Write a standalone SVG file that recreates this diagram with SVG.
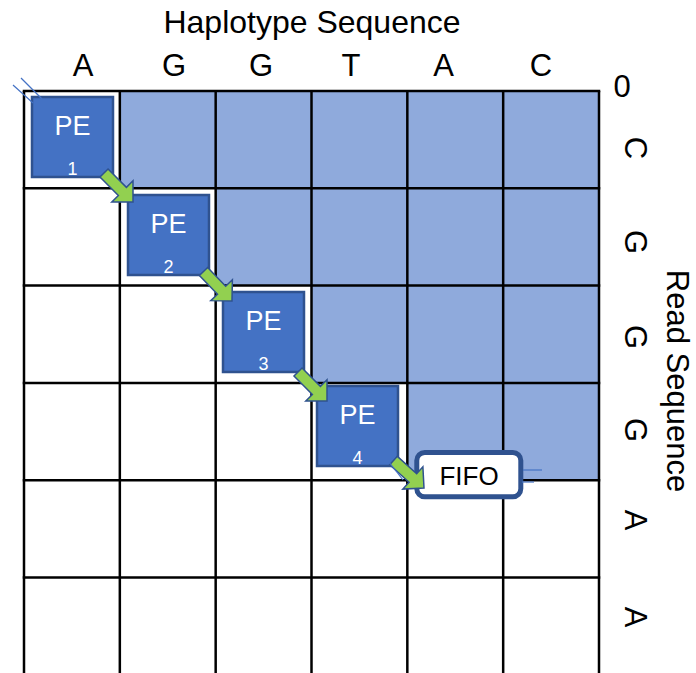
<svg xmlns="http://www.w3.org/2000/svg" width="696" height="673" viewBox="0 0 696 673">
  <defs>
    <style>
      .lbl { font-family: "Liberation Sans", Arial, sans-serif; fill: #000; }
      .big { font-size: 31px; }
      .grid line { stroke: #000; stroke-width: 2.5; }
      .pe rect { fill: #4472c4; stroke: #2f528f; stroke-width: 2.5; }
      .pe text { font-family: "Liberation Sans", Arial, sans-serif; fill: #fff; text-anchor: middle; }
      .pe .name { font-size: 27px; }
      .pe .num { font-size: 18px; }
      .arrow { fill: #92d050; stroke: #2f528f; stroke-width: 1.5; stroke-linejoin: miter; }
      .stub { stroke: #4472c4; stroke-width: 1.2; fill: none; }
    </style>
    <!-- right-pointing block arrow, tip at the origin -->
    <polygon id="blockArrow" points="-41,-5.7 -15,-5.7 -15,-15 0,0 -15,15 -15,5.7 -41,5.7"/>
  </defs>

  <rect width="696" height="673" fill="#fff"/>

  <!-- shaded upper triangle of the matrix -->
  <path d="M119.83,91 H599 V480.2 H407.33 V382.9 H311.5 V285.6 H215.67 V188.3 H119.83 Z" fill="#8faadc"/>

  <!-- matrix grid -->
  <g class="grid">
    <line x1="24" y1="91" x2="24" y2="673"/>
    <line x1="119.83" y1="91" x2="119.83" y2="673"/>
    <line x1="215.67" y1="91" x2="215.67" y2="673"/>
    <line x1="311.5" y1="91" x2="311.5" y2="673"/>
    <line x1="407.33" y1="91" x2="407.33" y2="673"/>
    <line x1="503.17" y1="91" x2="503.17" y2="673"/>
    <line x1="599" y1="91" x2="599" y2="673"/>
    <line x1="22.75" y1="91" x2="600.25" y2="91"/>
    <line x1="22.75" y1="188.3" x2="600.25" y2="188.3"/>
    <line x1="22.75" y1="285.6" x2="600.25" y2="285.6"/>
    <line x1="22.75" y1="382.9" x2="600.25" y2="382.9"/>
    <line x1="22.75" y1="480.2" x2="600.25" y2="480.2"/>
    <line x1="22.75" y1="577.5" x2="600.25" y2="577.5"/>
  </g>

  <!-- axis titles and sequence letters -->
  <text class="lbl" x="312" y="33" font-size="32" text-anchor="middle">Haplotype Sequence</text>
  <g class="lbl big" text-anchor="middle">
    <text x="83" y="76">A</text>
    <text x="174" y="76">G</text>
    <text x="261" y="76">G</text>
    <text x="351" y="76">T</text>
    <text x="443.5" y="76">A</text>
    <text x="541" y="76">C</text>
    <text x="622" y="97">0</text>
  </g>
  <g class="lbl big" text-anchor="middle">
    <text transform="translate(636,148) rotate(90)" y="11">C</text>
    <text transform="translate(636,242) rotate(90)" y="11">G</text>
    <text transform="translate(636,337) rotate(90)" y="11">G</text>
    <text transform="translate(636,430) rotate(90)" y="11">G</text>
    <text transform="translate(636,520) rotate(90)" y="11">A</text>
    <text transform="translate(636,617) rotate(90)" y="11">A</text>
    <text transform="translate(678,381) rotate(90)" y="11">Read Sequence</text>
  </g>

  <!-- processing elements -->
  <g id="pe1" class="pe">
    <rect x="32" y="97" width="81" height="80"/>
    <text class="name" x="72.5" y="135">PE</text>
    <text class="num" x="72.5" y="175">1</text>
  </g>
  <g id="pe2" class="pe">
    <rect x="128" y="195" width="81" height="80"/>
    <text class="name" x="168.5" y="233">PE</text>
    <text class="num" x="168.5" y="273">2</text>
  </g>
  <g id="pe3" class="pe">
    <rect x="223" y="292" width="81" height="80"/>
    <text class="name" x="263.5" y="330">PE</text>
    <text class="num" x="263.5" y="370">3</text>
  </g>
  <g id="pe4" class="pe">
    <rect x="317" y="386" width="81" height="80"/>
    <text class="name" x="357.5" y="424">PE</text>
    <text class="num" x="357.5" y="464">4</text>
  </g>

  <!-- output FIFO -->
  <g id="fifo">
    <rect x="416.8" y="452.5" width="104" height="44.3" rx="8" fill="#fff" stroke="#2f528f" stroke-width="5"/>
    <text class="lbl" x="469" y="485" font-size="26" text-anchor="middle">FIFO</text>
  </g>

  <!-- data-flow connectors between PEs -->
  <g id="connectors">
    <use href="#blockArrow" class="arrow" transform="translate(133,202) rotate(45)"/>
    <use href="#blockArrow" class="arrow" transform="translate(232,301) rotate(46)"/>
    <use href="#blockArrow" class="arrow" transform="translate(327,401) rotate(45)"/>
    <use href="#blockArrow" class="arrow" transform="translate(424,488) rotate(42)"/>
    <line class="stub" x1="389" y1="462" x2="403" y2="480"/>
    <line class="stub" x1="13" y1="85" x2="33" y2="103"/>
    <line class="stub" x1="21" y1="78" x2="42" y2="99"/>
    <line class="stub" x1="523" y1="470" x2="542" y2="470"/>
    <line class="stub" x1="522" y1="482" x2="534" y2="482"/>
  </g>
</svg>
